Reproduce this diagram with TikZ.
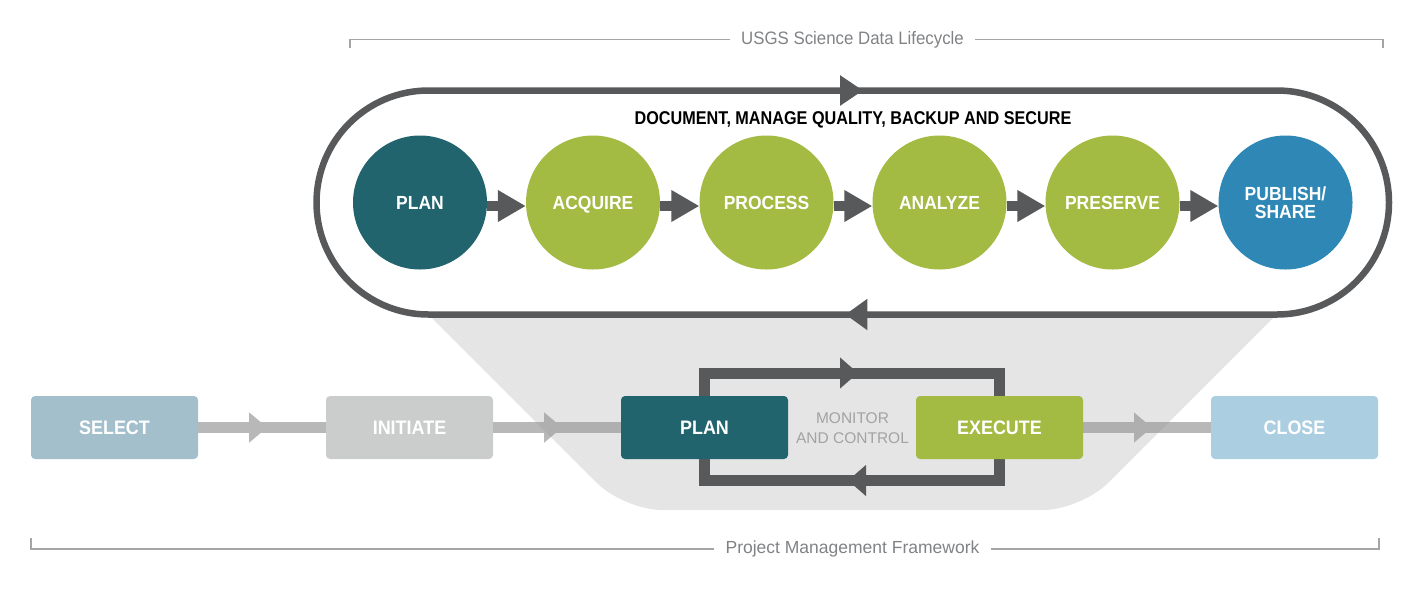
\documentclass[tikz,border=0pt]{standalone}
\usepackage{fontspec}
\setmainfont{Liberation Sans}
\newfontfamily\condfont[FakeStretch=0.876]{Liberation Sans}
\newfontfamily\labfont[FakeStretch=0.92]{Liberation Sans}
\newfontfamily\usgsfont[FakeStretch=0.935]{Liberation Sans}
\usetikzlibrary{arrows.meta,decorations.markings}
\definecolor{dkgray}{HTML}{58595B}
\definecolor{teal}{HTML}{21646E}
\definecolor{lgreen}{HTML}{A3BA43}
\definecolor{sblue}{HTML}{2E87B4}
\definecolor{selcol}{HTML}{A3BFCC}
\definecolor{inicol}{HTML}{CBCDCC}
\definecolor{closecol}{HTML}{ABCFE1}
\definecolor{conngray}{HTML}{B8B8B8}
\definecolor{shadecol}{HTML}{949494}
\definecolor{brgray}{HTML}{A5A5A5}
\definecolor{txtgray}{HTML}{808285}
\definecolor{montxt}{HTML}{A3A3A3}
\begin{document}
\begin{tikzpicture}[x=1pt,y=-1pt,
  circ/.style={circle, minimum size=134pt, inner sep=0pt, text=white,
    font=\labfont\fontsize{19}{20}\selectfont\bfseries, align=center},
  oneline/.style={text height=13.6pt, text depth=0pt},
  pbox/.style={rectangle, rounded corners=4pt, minimum width=167pt,
    minimum height=63pt, inner sep=0pt, text=white, text height=14pt, text depth=0pt,
    font=\labfont\fontsize{19.5}{22}\selectfont\bfseries},
  cbar/.style={draw=dkgray, line width=10pt, -{Triangle[length=28pt,width=30pt]}},
  gbar/.style={draw=conngray, line width=11pt, postaction={decorate},
    decoration={markings, mark=at position 69pt with
      {\arrow[conngray]{Triangle[length=18pt,width=29pt]}}}},
  bracket/.style={draw=brgray, line width=1.8pt},
  brtext/.style={text=txtgray, inner xsep=11pt, inner ysep=0pt}
]
\useasboundingbox (0,0) rectangle (1423,590);

% top bracket
\node[brtext, font=\usgsfont\fontsize{18}{20}\selectfont] (usgs) at (852.5,39.5) {USGS Science Data Lifecycle};
\coordinate (tl) at (350,48);
\coordinate (tr) at (1383,48);
\draw[bracket] (usgs.west) -| (tl);
\draw[bracket] (usgs.east) -| (tr);

% bottom row boxes
\node[pbox, fill=selcol] (select) at (114.5,427.5) {SELECT};
\node[pbox, fill=inicol] (initiate) at (409.5,427.5) {INITIATE};
\node[pbox, fill=closecol] (close) at (1294.5,427.5) {CLOSE};

% gray connectors
\draw[gbar] (select.east) -- (initiate.west);
\coordinate (planl) at (621,427.5);
\coordinate (execr) at (1083,427.5);

% positions of the PLAN and EXECUTE boxes
\path (704.5,427.5) coordinate (pc) (999.5,427.5) coordinate (ec);
\draw[gbar] (initiate.east) -- (planl);
\draw[gbar] (execr) -- (close.west);

% gray funnel shape
\fill[shadecol, fill opacity=0.243, rounded corners=38pt]
  (370,256) -- (624,510) -- (1081,510) -- (1335,256) -- cycle;

% monitor loop
\draw[draw=dkgray, line width=11pt, postaction={decorate},
  decoration={markings, mark=at position 208pt with {\arrow[dkgray]{Triangle[length=18pt,width=30pt]}}}]
  (pc) -- (pc |- 0,373) -| (ec);
\draw[draw=dkgray, line width=11pt, postaction={decorate},
  decoration={markings, mark=at position 204.5pt with {\arrow[dkgray]{Triangle[length=18pt,width=30pt]}}}]
  (ec) -- (ec |- 0,480.5) -| (pc);

\node[pbox, fill=teal] (plan) at (pc) {PLAN};
\node[pbox, fill=lgreen] (exec) at (ec) {EXECUTE};

\node[text=montxt, font=\fontsize{15.5}{20}\selectfont, align=center] (mon) at (852.5,428) {MONITOR\\AND CONTROL};

% stadium
\draw[draw=dkgray, fill=white, line width=6.5pt, postaction={decorate},
  decoration={markings,
    mark=at position 434.5pt with {\arrow[dkgray]{Triangle[length=23pt,width=29pt]}},
    mark=at position 1632pt with {\arrow[dkgray]{Triangle[length=22pt,width=30pt]}}}]
  (428.5,90.5) -- (1277,90.5) arc[start angle=-90, end angle=90, radius=112]
  -- (428.5,314.5) arc[start angle=90, end angle=270, radius=112] -- cycle;

\node[font=\condfont\fontsize{18.5}{20}\selectfont\bfseries, text=black] (doc) at (853,119.5) {DOCUMENT, MANAGE QUALITY, BACKUP AND SECURE};

% circles
\node[circ, oneline, fill=teal] (c1) at (420,202.5) {PLAN};
\node[circ, oneline, fill=lgreen] (c2) at (593,202.5) {ACQUIRE};
\node[circ, oneline, fill=lgreen] (c3) at (766.5,202.5) {PROCESS};
\node[circ, oneline, fill=lgreen] (c4) at (939.5,202.5) {ANALYZE};
\node[circ, oneline, fill=lgreen] (c5) at (1112.5,202.5) {PRESERVE};
\node[circ, fill=sblue] (c6) at (1285.5,202.5) {PUBLISH/\\[-2pt]SHARE};

\foreach \a/\b in {c1/c2,c2/c3,c3/c4,c4/c5,c5/c6}
  \draw[cbar] ([yshift=-3.5pt]\a.east) -- ([yshift=-3.5pt]\b.west);

% bottom bracket
\node[brtext, font=\fontsize{17.5}{20}\selectfont] (pmf) at (852.5,549) {Project Management Framework};
\coordinate (bl) at (31,538);
\coordinate (br) at (1379,538);
\draw[bracket] (pmf.west) -| (bl);
\draw[bracket] (pmf.east) -| (br);
\end{tikzpicture}
\end{document}
